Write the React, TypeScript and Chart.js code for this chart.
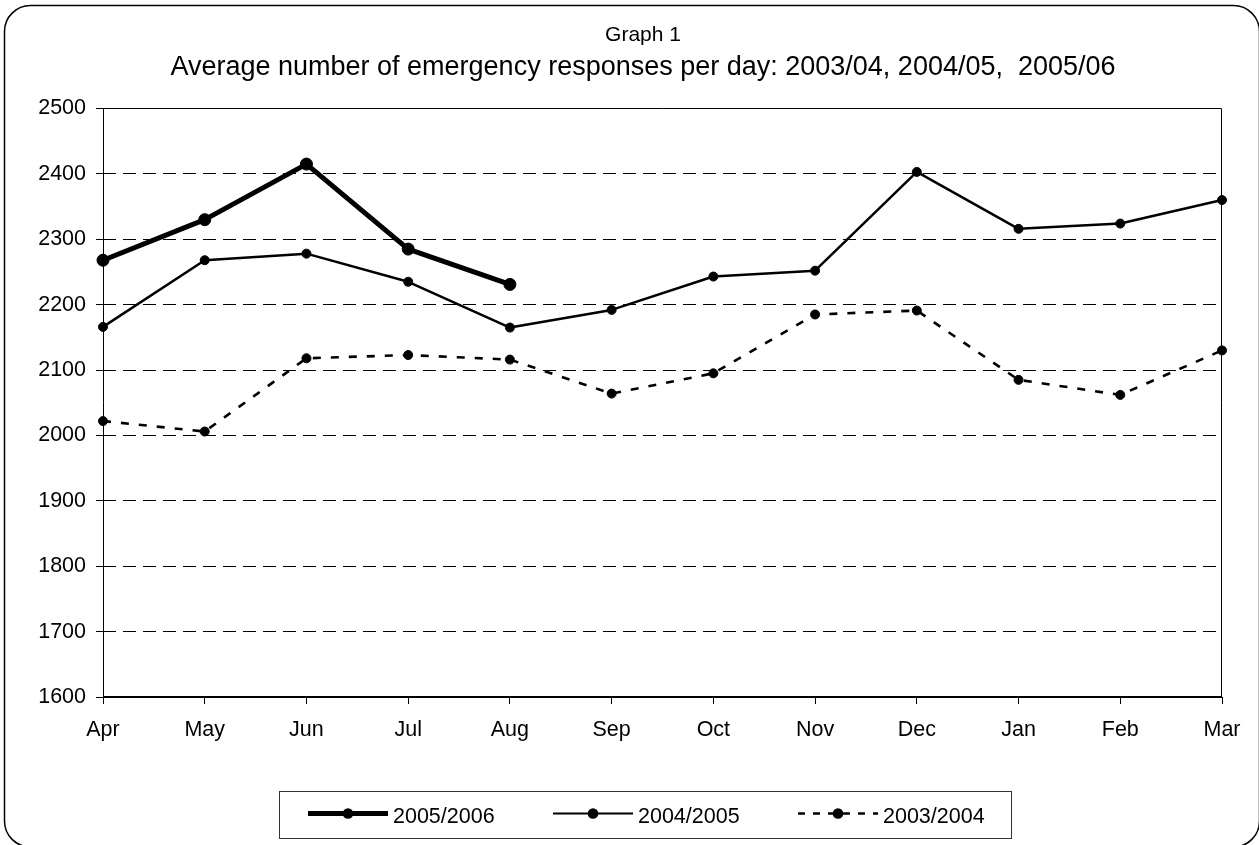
import React, { useEffect, useRef } from 'react';
import { Chart, registerables } from 'chart.js';

Chart.register(...registerables);

// ---- data ----
const months = ['Apr', 'May', 'Jun', 'Jul', 'Aug', 'Sep', 'Oct', 'Nov', 'Dec', 'Jan', 'Feb', 'Mar'];
const series0506 = [2268, 2330, 2415, 2285, 2231];
const series0405 = [2166, 2268, 2278, 2235, 2165, 2192, 2243, 2252, 2403, 2316, 2324, 2360];
const series0304 = [2022, 2006, 2118, 2123, 2116, 2064, 2095, 2185, 2191, 2085, 2062, 2130];
const seriesLabels = ['2005/2006', '2004/2005', '2003/2004'];
const yMin = 1600;
const yMax = 2500;
const yStep = 100;
const superTitle = 'Graph 1';
const mainTitle = 'Average number of emergency responses per day: 2003/04, 2004/05,  2005/06';

const FONT = '"Liberation Sans", Arial, Helvetica, sans-serif';

const decorPlugin = {
  id: 'decor',
  beforeDatasetsDraw(chart: any) {
    const { ctx, chartArea } = chart;
    const { left, right, top, bottom } = chartArea;
    ctx.save();
    ctx.strokeStyle = '#000';
    ctx.setLineDash([]);
    ctx.lineWidth = 1;
    ctx.beginPath();
    ctx.moveTo(Math.round(left) + 0.5, bottom);
    ctx.lineTo(Math.round(left) + 0.5, Math.floor(top) + 0.5);
    ctx.lineTo(Math.round(right) - 0.5, Math.floor(top) + 0.5);
    ctx.lineTo(Math.round(right) - 0.5, bottom);
    ctx.stroke();
    ctx.lineWidth = 2;
    ctx.beginPath();
    ctx.moveTo(left, Math.round(bottom));
    ctx.lineTo(right, Math.round(bottom));
    ctx.stroke();
    ctx.restore();
  },
  afterDraw(chart: any) {
    const { ctx } = chart;
    ctx.save();
    // titles
    ctx.fillStyle = '#000';
    ctx.textAlign = 'center';
    ctx.textBaseline = 'alphabetic';
    ctx.font = `21px ${FONT}`;
    ctx.fillText(superTitle, 643, 41);
    ctx.font = `27px ${FONT}`;
    ctx.fillText(mainTitle, 643, 75);

    // legend
    const bx = 279.5, by = 791.5, bw = 732, bh = 47;
    ctx.strokeStyle = '#333';
    ctx.lineWidth = 1;
    ctx.setLineDash([]);
    ctx.strokeRect(bx, by, bw, bh);
    const ly = 813.5;
    const legendLineW = [5, 2, 2.6];
    const legendDash = [[], [], [7, 8]];
    chart.data.datasets.forEach((ds: any, i: number) => {
      const x0 = 308 + i * 245;
      ctx.strokeStyle = '#000';
      ctx.lineWidth = legendLineW[i];
      ctx.setLineDash(legendDash[i]);
      ctx.lineCap = 'butt';
      ctx.beginPath();
      ctx.moveTo(x0, ly);
      ctx.lineTo(x0 + 80, ly);
      ctx.stroke();
      ctx.setLineDash([]);
      ctx.fillStyle = '#000';
      ctx.beginPath();
      ctx.arc(x0 + 40, ly, 5.3, 0, Math.PI * 2);
      ctx.fill();
      ctx.font = `21.5px ${FONT}`;
      ctx.textAlign = 'left';
      ctx.textBaseline = 'alphabetic';
      ctx.fillText(ds.label, x0 + 85, 823);
    });

    // outer rounded frame
    ctx.strokeStyle = '#000';
    ctx.lineWidth = 1.5;
    ctx.beginPath();
    ctx.roundRect(4.5, 5.5, 1255, 841.5, 26);
    ctx.stroke();
    ctx.restore();
  },
};

export default function App() {
  const canvasRef = useRef<HTMLCanvasElement | null>(null);

  useEffect(() => {
    const canvas = canvasRef.current;
    if (!canvas) return;
    const chart = new Chart(canvas, {
      type: 'line',
      data: {
        labels: months,
        datasets: [
          {
            label: seriesLabels[0],
            data: series0506,
            borderColor: '#000',
            backgroundColor: '#000',
            borderWidth: 5,
            pointRadius: 6,
            pointBorderWidth: 1,
            pointBackgroundColor: '#000',
            pointBorderColor: '#000',
            borderJoinStyle: 'round',
            tension: 0,
            fill: false,
          },
          {
            label: seriesLabels[1],
            data: series0405,
            borderColor: '#000',
            backgroundColor: '#000',
            borderWidth: 2.5,
            pointRadius: 4.5,
            pointBorderWidth: 1,
            pointBackgroundColor: '#000',
            pointBorderColor: '#000',
            borderJoinStyle: 'round',
            tension: 0,
            fill: false,
          },
          {
            label: seriesLabels[2],
            data: series0304,
            borderColor: '#000',
            backgroundColor: '#000',
            borderWidth: 2.6,
            borderDash: [8, 10],
            pointRadius: 4.5,
            pointBorderWidth: 1,
            pointBackgroundColor: '#000',
            pointBorderColor: '#000',
            tension: 0,
            fill: false,
          },
        ],
      },
      options: {
        animation: false,
        responsive: false,
        devicePixelRatio: 1,
        layout: { padding: { top: 108.5, left: 0, right: 37, bottom: 0 } },
        plugins: {
          legend: { display: false },
          title: { display: false },
          tooltip: { enabled: false },
        },
        scales: {
          x: {
            type: 'category',
            offset: false,
            afterFit: (scale: any) => {
              scale.height = 148;
            },
            grid: {
              display: true,
              drawOnChartArea: false,
              drawTicks: true,
              tickLength: 7,
              tickColor: '#000',
              tickWidth: 1,
              color: '#000',
            },
            border: { display: false },
            ticks: {
              color: '#000',
              font: { family: FONT, size: 21.5 },
              padding: 13,
              maxRotation: 0,
              autoSkip: false,
            },
          },
          y: {
            min: yMin,
            max: yMax,
            afterFit: (scale: any) => {
              scale.width = 103;
            },
            grid: {
              display: true,
              color: '#000',
              lineWidth: 1,
              drawTicks: true,
              tickLength: 7,
              tickColor: '#000',
              tickWidth: 1,
              tickBorderDash: [1, 0],
            },
            border: { display: false, dash: [13, 7] },
            ticks: {
              stepSize: yStep,
              color: '#000',
              font: { family: FONT, size: 21.5 },
              padding: 10,
              callback: (value: any) => String(value),
            },
          },
        },
      },
      plugins: [decorPlugin],
    } as any);
    return () => chart.destroy();
  }, []);

  return (
    <div style={{ position: 'fixed', left: 0, top: 0, width: 1259, height: 845, background: '#fff' }}>
      <canvas ref={canvasRef} width={1259} height={845} style={{ display: 'block', width: 1259, height: 845 }} />
    </div>
  );
}
